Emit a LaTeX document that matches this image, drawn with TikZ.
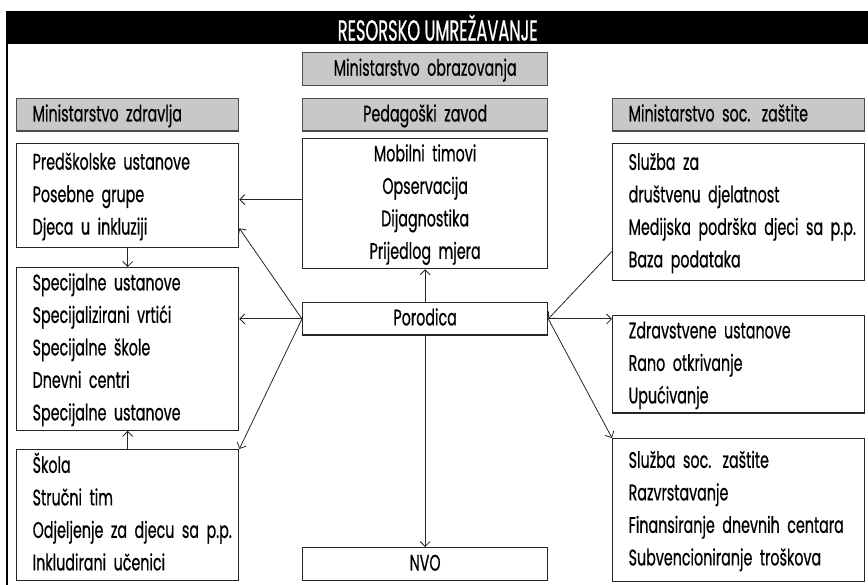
\documentclass[tikz,border=0pt]{standalone}
\usepackage{fontspec}
\setmainfont{Poppins}[FakeStretch=0.635, FakeBold=0.6]
\newfontfamily\titlefont{Poppins}[FakeStretch=0.56, FakeBold=0.6]
\usetikzlibrary{arrows.meta,calc}
\definecolor{boxgray}{HTML}{C8C8C8}
\newcommand{\llines}[1]{\hspace*{16pt}\begin{tabular}{@{}l@{}}#1\end{tabular}}
\newcommand{\clines}[1]{\begin{tabular}{@{}c@{}}#1\end{tabular}}
\begin{document}
\begin{tikzpicture}[x=1pt,y=-1pt,
  box/.style={draw=black!85, line width=1.3pt, inner ysep=0pt, inner xsep=0pt, anchor=north west,
    font=\fontsize{22.5}{32.5}\selectfont},
  leftcol/.style={box, text width=222pt, align=left},
  rightcol/.style={box, text width=252pt, align=left},
  midcol/.style={box, text width=245pt, align=center},
  graybox/.style={fill=boxgray, draw=black!70, line width=1.4pt},
  arr/.style={-{Straight Barb[length=5pt,width=10pt]}, line width=0.8pt, black!85}]
\useasboundingbox (0,0) rectangle (868,585);
% title bar and left border
\node[fill=black, minimum width=861pt, minimum height=33pt, inner sep=0pt, anchor=north west,
  text=white, font=\titlefont\fontsize{29}{30}\selectfont] (title) at (7,11) {RESORSKO UMREŽAVANJE};
\draw[line width=2.5pt] (title.north west) -- (7,585);
% header boxes
\node[midcol, graybox, minimum height=33pt] (mobr) at (302,52) {\clines{Ministarstvo obrazovanja}};
\node[leftcol, graybox, minimum height=32pt] (mzdr) at (16,98) {\llines{Ministarstvo zdravlja}};
\node[midcol, graybox, minimum height=32pt] (pedz) at (302,98) {\clines{Pedagoški zavod}};
\node[rightcol, graybox, minimum height=32pt] (msoc) at (612,98) {\llines{Ministarstvo soc. zaštite}};
% left column
\node[leftcol, minimum height=104pt] (pred) at (16,143) {\llines{Predškolske ustanove\\Posebne grupe\\Djeca u inkluziji}};
\node[leftcol, minimum height=161pt] (spec) at (16,267) {\llines{Specijalne ustanove\\Specijalizirani vrtići\\Specijalne škole\\Dnevni centri\\Specijalne ustanove}};
\node[leftcol, minimum height=131pt] (skola) at (16,449) {\llines{Škola\\Stručni tim\\Odjeljenje za djecu sa p.p.\\Inkludirani učenici}};
% middle column
\node[midcol, minimum height=124pt] (mob) at (302,138) {\clines{Mobilni timovi\\Opservacija\\Dijagnostika\\Prijedlog mjera}};
\node[midcol, minimum height=32pt] (por) at (302,302) {\clines{Porodica}};
\node[midcol, minimum height=33pt] (nvo) at (302,547) {\clines{NVO}};
% right column
\node[rightcol, minimum height=137pt] (sluz) at (612,143) {\llines{Služba za\\društvenu djelatnost\\Medijska podrška djeci sa p.p.\\Baza podataka}};
\node[rightcol, minimum height=92pt] (zdr) at (612,315) {\llines{Zdravstvene ustanove\\Rano otkrivanje\\Upućivanje}};
\node[rightcol, minimum height=143pt] (soc) at (612,438) {\llines{Služba soc. zaštite\\Razvrstavanje\\Finansiranje dnevnih centara\\Subvencioniranje troškova}};
% connectors
\draw[arr] ([yshift=4pt]mob.west) -- ([yshift=4pt]mob.west -| pred.east);
\draw[arr] (por.north) -- (mob.south);
\draw[arr] (por.south) -- (nvo.north);
\draw[arr] (por.west) -- ([yshift=20pt]pred.south east);
\draw[arr] (por.west) -- (por.west -| spec.east);
\draw[arr] (por.west) -- (skola.north east);
\draw[arr] (pred.south) -- (spec.north);
\draw[arr] (skola.north) -- (spec.south);
\draw[arr] ([yshift=30pt]sluz.south west) -- (por.east);
\draw[arr] (por.east) -- (por.east -| zdr.west);
\draw[arr] (por.east) -- (soc.north west);
\end{tikzpicture}
\end{document}
